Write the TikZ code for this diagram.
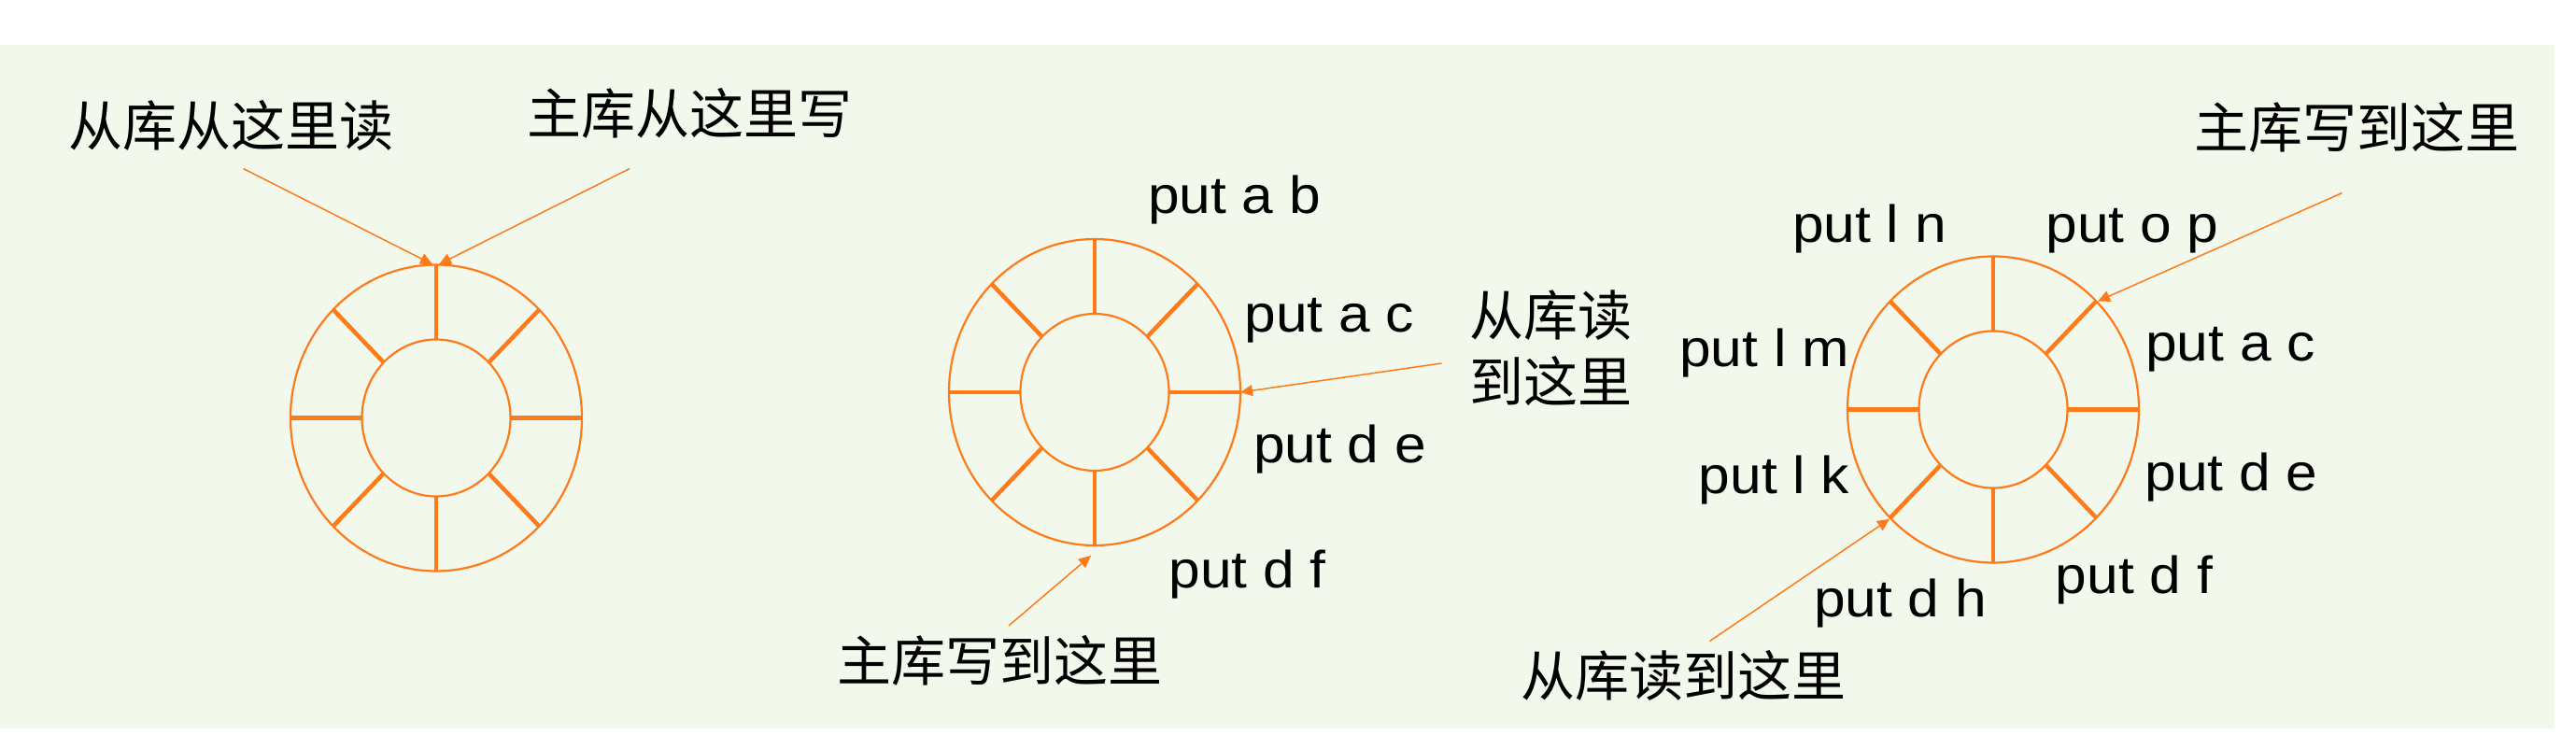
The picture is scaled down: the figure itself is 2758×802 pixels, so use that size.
\documentclass[tikz,border=0pt]{standalone}
\usepackage{fontspec}
\usetikzlibrary{arrows.meta}
\newfontfamily\latinf[FakeStretch=1.08]{Liberation Sans}
\newfontfamily\cjkf{Noto Sans CJK SC}
\definecolor{bgc}{RGB}{242,248,235}
\definecolor{org}{RGB}{253,123,27}
\begin{document}
\begin{tikzpicture}[x=0.5pt,y=-0.5pt,
  lat/.style={font=\fontsize{28}{33}\selectfont\latinf, inner sep=0pt, anchor=base},
  cjk/.style={font=\fontsize{29}{35.25}\selectfont\cjkf, inner sep=0pt, align=center},
  rim/.style={draw=org, line width=1.1pt},
  spoke/.style={draw=org, line width=2.25pt},
  ptr/.style={draw=org, line width=0.75pt, -{Triangle[length=6.5pt,width=6pt]}}]
\useasboundingbox (0,0) rectangle (2758,802);
\fill[bgc] (0,48) rectangle (2735,780);
% ring centres
\coordinate (c1) at (467,447.5);
\coordinate (c2) at (1172,420);
\coordinate (c3) at (2134,438.5);
\foreach \c in {c1,c2,c3}{
  \draw[rim] (\c) ellipse [x radius=78pt, y radius=82pt];
  \draw[rim] (\c) ellipse [x radius=39.75pt, y radius=42pt];
  \foreach \a in {0,45,...,315}
    \draw[spoke, shift={(\c)}] (\a:79.5 and 84) -- (\a:156 and 164);
}
% ---- ring 1
\node[cjk] (r1read) at (247.5,134.5) {从库从这里读};
\node[cjk] (r1write) at (738.5,121) {主库从这里写};
\coordinate (r1reads) at (260.6,180.6);
\coordinate (r1readt) at (463,283);
\coordinate (r1writes) at (674,180.6);
\coordinate (r1writet) at (470,283);
\draw[ptr] (r1reads) -- (r1readt);
\draw[ptr] (r1writes) -- (r1writet);
% ---- ring 2
\node[lat] (r2ab) at (1321.5,229) {put a b};
\node[lat] (r2ac) at (1423.5,356) {put a c};
\node[lat] (r2de) at (1434.5,495) {put d e};
\node[lat] (r2df) at (1335.5,629) {put d f};
\node[cjk] (r2read) at (1660,372.5) {从库读\\到这里};
\node[cjk] (r2write) at (1070,707) {主库写到这里};
\coordinate (r2reads) at (1543.5,389);
\coordinate (r2readt) at (1328,420);
\coordinate (r2writes) at (1080,670);
\coordinate (r2writet) at (1168,595);
\draw[ptr] (r2reads) -- (r2readt);
\draw[ptr] (r2writes) -- (r2writet);
% ---- ring 3
\node[cjk] (r3write) at (2523,136) {主库写到这里};
\node[lat] (r3ln) at (2001.5,260) {put l n};
\node[lat] (r3op) at (2283,260) {put o p};
\node[lat] (r3lm) at (1889,392.5) {put l m};
\node[lat] (r3ac) at (2388,386.5) {put a c};
\node[lat] (r3lk) at (1899.5,528) {put l k};
\node[lat] (r3de) at (2389,525) {put d e};
\node[lat] (r3df) at (2285,635) {put d f};
\node[lat] (r3dh) at (2034.5,660) {put d h};
\node[cjk] (r3read) at (1802,723) {从库读到这里};
\coordinate (r3writes) at (2507.5,206.6);
\coordinate (r3writet) at (2246,322.5);
\coordinate (r3reads) at (1830.5,686.5);
\coordinate (r3readt) at (2023,555.8);
\draw[ptr] (r3writes) -- (r3writet);
\draw[ptr] (r3reads) -- (r3readt);
\end{tikzpicture}
\end{document}
